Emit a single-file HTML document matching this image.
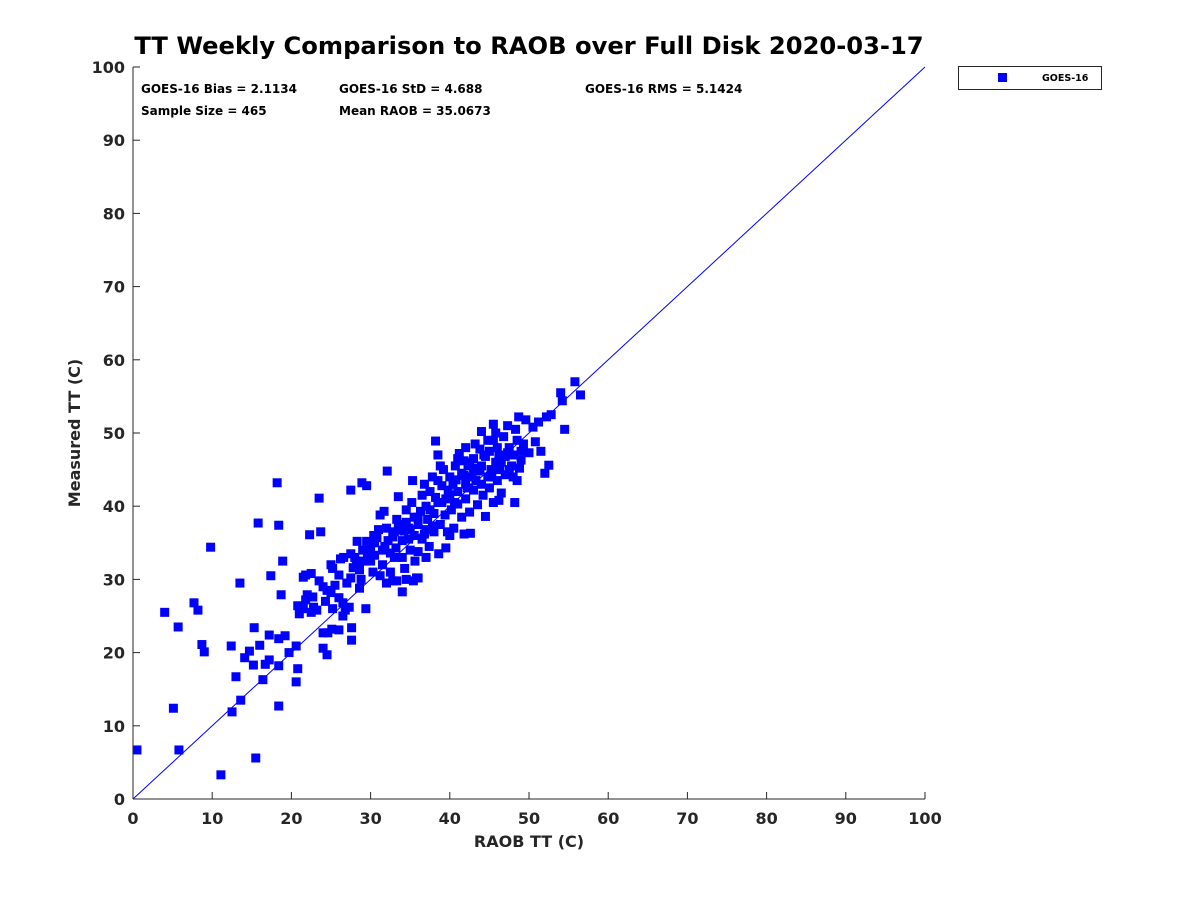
<!DOCTYPE html>
<html><head><meta charset="utf-8"><style>
body{margin:0;background:#fff;}
svg text{font-family:"DejaVu Sans","Liberation Sans",sans-serif;font-weight:bold;fill:#262626;}
</style></head><body>
<svg id="chart" width="1200" height="900" viewBox="0 0 1200 900" xmlns="http://www.w3.org/2000/svg">
<rect width="1200" height="900" fill="#fff"/>
<text x="529" y="54" text-anchor="middle" font-size="24.2" style="fill:#000">TT Weekly Comparison to RAOB over Full Disk 2020-03-17</text>
<g id="ticks"></g>
<line id="diag" stroke="#0000ff" stroke-width="1"/>
<g id="points"></g>
<line x1="133" y1="67" x2="133" y2="799" stroke="#262626" stroke-width="1"/>
<line x1="133" y1="799" x2="925" y2="799" stroke="#262626" stroke-width="1"/>
<text x="529" y="847" text-anchor="middle" font-size="16">RAOB TT (C)</text>
<text transform="translate(80,433) rotate(-90)" text-anchor="middle" font-size="16">Measured TT (C)</text>
<g font-size="12">
<text x="141" y="93" style="fill:#000">GOES-16 Bias = 2.1134</text>
<text x="339" y="93" style="fill:#000">GOES-16 StD = 4.688</text>
<text x="585" y="93" style="fill:#000">GOES-16 RMS = 5.1424</text>
<text x="141" y="115" style="fill:#000">Sample Size = 465</text>
<text x="339" y="115" style="fill:#000">Mean RAOB = 35.0673</text>
</g>
<g>
<rect x="958.5" y="66.5" width="143" height="23" fill="#fff" stroke="#262626" stroke-width="1"/>
<rect x="998" y="73" width="9" height="9" fill="#0000ff"/>
<text x="1042" y="81" font-size="9.5" style="fill:#000">GOES-16</text>
</g>
</svg>
<script>
const xTicks=[0,10,20,30,40,50,60,70,80,90,100];
const yTicks=[0,10,20,30,40,50,60,70,80,90,100];
const raob=[0.5,4,5.7,5.1,5.8,7.7,8.2,8.7,9.0,9.8,11.1,12.4,12.5,13,13.5,13.6,14.1,14.7,15.3,15.2,15.5,15.8,16,16.4,16.7,17.2,17.2,17.4,18.2,18.4,18.4,18.4,18.4,18.7,18.9,19.2,19.7,20.6,20.6,20.8,20.8,21.5,22.3,22.7,23.5,23.7,24,24.5,24.6,27.5,27.6,27.6,28.9,29.5,29.4,32.1,34,
21,21.5,21.8,22,22.5,22.8,23.2,23.5,21.8,22.5,24,24.3,24.5,25,25.2,25.5,25.2,26,26.2,26.6,26,26.5,26.8,27.3,27,27.5,27.8,28,28.2,28.6,28.8,29,29.5,29.6,30,30,30.3,30.5,30.8,31,31.2,31.5,31.8,31.2,31.7,32,32.2,32.5,32.5,32.8,33,33.2,33.3,33.5,33.8,34,34,34.3,34.5,34.5,34.8,35,35,35.2,35.3,35.5,35.6,35.8,36,36,36.3,36.5,36.5,36.8,37,37,37.2,37.4,37.5,37.8,38,38,38.2,38.5,38.6,38.8,39,39,39.2,39.4,39.5,39.7,40,40,40.2,40.4,40.5,40.7,41,41,41.2,41.5,41.5,41.8,42,42,42.3,42.5,42.6,42.8,43,43,43.2,43.5,43.6,43.8,44,44,44.2,44.5,44.5,44.8,45,45,45.2,45.5,45.5,45.8,46,46,46.3,46.5,46.8,47,47,47.3,47.5,47.8,48,48,48.3,48.5,48.7,49,49,49.3,49.6,50,50.5,50.8,51.2,51.5,52,52.2,52.5,52.8,54,54.2,54.5,55.8,56.5,
34.8,35.5,36,33.5,32.8,37.5,38.5,39.8,40.8,41.8,42.5,43.3,44.3,45.3,46.2,39.5,40.6,36.8,34.2,31.5,30.5,29,27.5,33,37.8,38.8,41,42,43.8,44.8,45.8,46.5,47.3,48.8,40,37,36,35.4,34.5,26.5,26,24,25.1,28.6,30.4,25,28.3,32,33.3,48.2,46.2,47.5,38.2,38.5,41.8,45.5,44,43,42.2,48.5];
const measured=[6.7,25.5,23.5,12.4,6.7,26.8,25.8,21.1,20.1,34.4,3.3,20.9,11.9,16.7,29.5,13.5,19.3,20.2,23.4,18.3,5.6,37.7,21,16.3,18.4,22.4,19,30.5,43.2,21.9,37.4,18.2,12.7,27.9,32.5,22.3,20,20.9,16,17.8,26.4,30.3,36.1,27.6,41.1,36.5,20.6,19.7,22.7,42.2,23.4,21.7,43.2,42.8,26,44.8,28.3,
25.3,26,27.2,27.9,25.5,26.2,25.8,29.8,30.6,30.8,29,27,28.5,28.2,26,29.2,31.5,30.6,32.8,33,27.5,26.8,25.8,26.2,29.5,30.2,31.6,33,32.5,31.3,30,34,35.2,33.5,34.5,32.5,31,33.3,35.7,36.8,30.5,32,34.5,38.8,39.3,37,35.3,33.6,31,29.8,36.5,34.3,38.2,41.3,36.8,35.3,33,31.5,37.8,39.5,35.5,34,36.8,40.5,43.5,38.5,32.5,30.2,33.8,37.5,39.3,41.5,35.5,43,36.8,40,38.2,34.5,42,44,39,36.5,41.2,43.5,33.5,37.5,40.5,42.8,45,38.8,34.3,36.5,41.5,44,39.5,43,37,45.5,42,40.3,47.2,44.5,38.5,36.2,43,41,45.5,39.2,36.3,44,46.5,42.2,48.5,40.2,44.8,47.8,43,45.5,41.5,46.8,38.6,44,42.5,47.5,45,40.5,49,46,43.5,48,45,41.8,49.5,46.8,44.3,51,48,45.5,47,44,50.5,49,52.2,47.5,46.3,48.5,51.8,47.3,50.8,48.8,51.5,47.5,44.5,52.2,45.6,52.5,55.5,54.4,50.5,57,55.2,
37,36,38.5,37.5,35.8,39.5,40.5,42.2,43.6,44.2,46,43.5,47,44,47,41,40.5,36.2,36.6,34,35,32.5,33.5,33,37.3,45.5,46.5,48,45,49,50,46,47.3,45.2,36,33,30.2,29.8,30,25,23.1,22.7,23.2,28.8,36,32,35.2,29.5,29.8,40.5,40.8,45,48.9,47,46.2,51.2,50.2,45.2,42.5,43.5];
const X0=133,X1=925,Y0=799,Y1=67;
function xs(v){return X0+(v-0)/(100-0)*(X1-X0);}
function ys(v){return Y0-(v-0)/(100-0)*(Y0-Y1);}
const NS='http://www.w3.org/2000/svg';
const tg=document.getElementById('ticks');
xTicks.forEach(t=>{
  const l=document.createElementNS(NS,'line');
  l.setAttribute('x1',xs(t));l.setAttribute('x2',xs(t));l.setAttribute('y1',Y0);l.setAttribute('y2',Y0-7);
  l.setAttribute('stroke','#262626');
  
  
  tg.appendChild(l);
  const tx=document.createElementNS(NS,'text');
  tx.setAttribute('x',xs(t));tx.setAttribute('y',Y0+25);tx.setAttribute('text-anchor','middle');tx.setAttribute('font-size','16');
  tx.textContent=t;
  
  
  tg.appendChild(tx);
});
yTicks.forEach(t=>{
  const l=document.createElementNS(NS,'line');
  l.setAttribute('x1',X0);l.setAttribute('x2',X0+7);l.setAttribute('y1',ys(t));l.setAttribute('y2',ys(t));
  l.setAttribute('stroke','#262626');
  
  
  tg.appendChild(l);
  const tx=document.createElementNS(NS,'text');
  tx.setAttribute('x',X0-8);tx.setAttribute('y',ys(t)+6);tx.setAttribute('text-anchor','end');tx.setAttribute('font-size','16');
  tx.textContent=t;
  
  
  tg.appendChild(tx);
});
const d=document.getElementById('diag');
d.setAttribute('x1',xs(0));d.setAttribute('y1',ys(0));d.setAttribute('x2',xs(100));d.setAttribute('y2',ys(100));
const pg=document.getElementById('points');
for(let i=0;i<raob.length;i++){
  const r=document.createElementNS(NS,'rect');
  r.setAttribute('x',xs(raob[i])-4.5);r.setAttribute('y',ys(measured[i])-4.5);
  r.setAttribute('width',9);r.setAttribute('height',9);r.setAttribute('fill','#0000ff');
  
  
  pg.appendChild(r);
}
</script>
</body></html>
